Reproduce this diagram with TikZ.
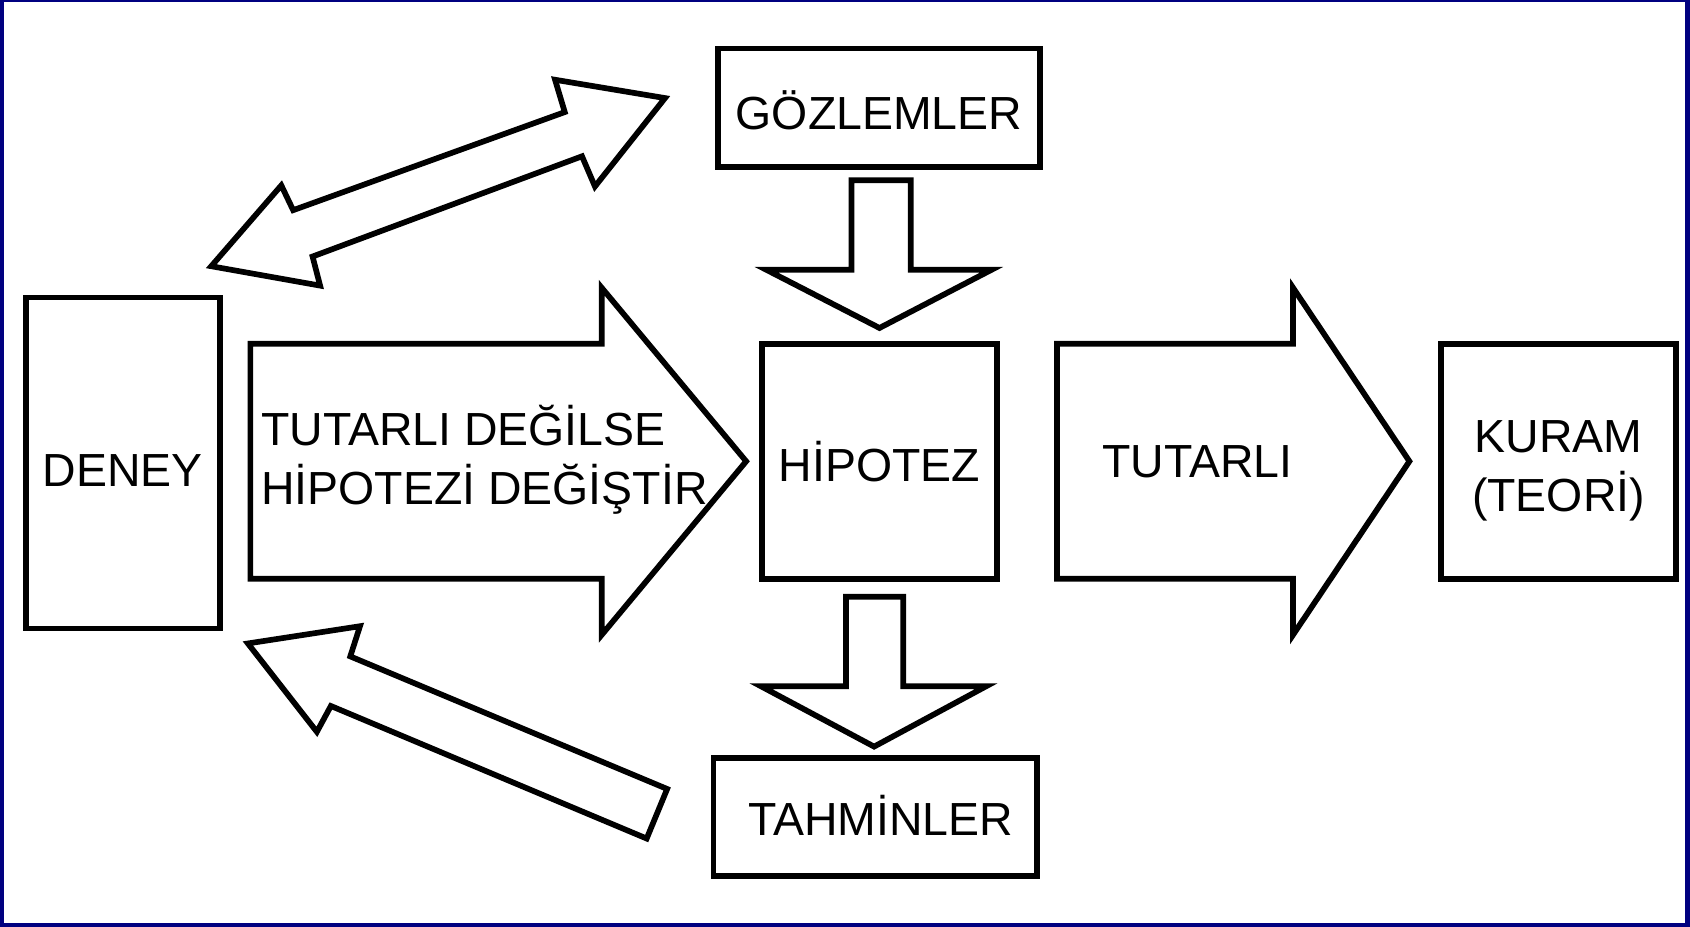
\documentclass[tikz,border=0pt]{standalone}
\usepackage{fontspec}
\setmainfont{Liberation Sans}
\definecolor{navyframe}{RGB}{0,0,128}

\begin{document}
\begin{tikzpicture}
  [x=0.01cm, y=-0.01cm,
    every node/.style={font=\fontsize{12.25}{15.5}\selectfont},
    box/.style={draw, line width=1.5pt, inner sep=0pt},
    boxtext/.style={align=center},
    blockarrow/.style={draw, line width=1.5pt, fill=white},
  ]
  % frame
  \fill[navyframe] (0,0) rectangle (1568,860);
  \fill[white] (3.7,2) rectangle (1563.4,856.5);
  \useasboundingbox (0,0) rectangle (1568,860);

  % boxes
  \node[box, minimum width=1.80cm, minimum height=3.07cm,
    label={[boxtext, yshift=-2pt]center:DENEY}] (deney) at (114,429.5) {};
  \node[box, minimum width=2.99cm, minimum height=1.10cm,
    label={[boxtext, yshift=-0.6pt]center:GÖZLEMLER}] (gozlem) at (815.5,100) {};
  \node[box, minimum width=2.18cm, minimum height=2.18cm,
    label={[boxtext]center:HİPOTEZ}] (hipotez) at (816,428) {};
  \node[box, minimum width=3.00cm, minimum height=1.10cm,
    label={[boxtext, xshift=1.5pt, yshift=0.4pt]center:TAHMİNLER}] (tahmin) at (812,758) {};
  \node[box, minimum width=2.18cm, minimum height=2.18cm,
    label={[boxtext, yshift=-2.5pt]center:KURAM\\(TEORİ)}] (kuram) at (1446,428) {};

  % big arrows
  \draw[blockarrow, shift={(hipotez.west)}]
    (-472,-109) -- (-146,-109) -- (-146,-161) -- (-12,0)
    -- (-146,161) -- (-146,109) -- (-472,109) -- cycle;
  \draw[blockarrow, shift={(hipotez.east)}]
    (53,-109) -- (272,-109) -- (272,-161) -- (380,0)
    -- (272,161) -- (272,109) -- (53,109) -- cycle;
  \node[align=left, anchor=west] (degistir) at (230,426.5)
    {TUTARLI DEĞİLSE\\HİPOTEZİ DEĞİŞTİR};
  \node (tutarli) at (1111,428) {TUTARLI};

  % down arrows
  \draw[blockarrow, shift={(hipotez.north)}]
    (-26,-149) -- (29,-149) -- (29,-66) -- (104,-66) -- (0,-12)
    -- (-105,-66) -- (-26,-66) -- cycle;
  \draw[blockarrow, shift={(hipotez.south)}]
    (-31,14) -- (22,14) -- (22,97) -- (99,97) -- (-5,153)
    -- (-110,97) -- (-31,97) -- cycle;

  % diagonal arrows
  \draw[blockarrow]
    (617,91) -- (552,173) -- (540,145) -- (290,238) -- (297,265)
    -- (196,247) -- (261,172) -- (272,195) -- (524,104) -- (515,74) -- cycle;
  \draw[blockarrow]
    (230,597) -- (334,581) -- (325,609) -- (619,732) -- (600,778)
    -- (307,655) -- (294,679) -- cycle;
\end{tikzpicture}
\end{document}
